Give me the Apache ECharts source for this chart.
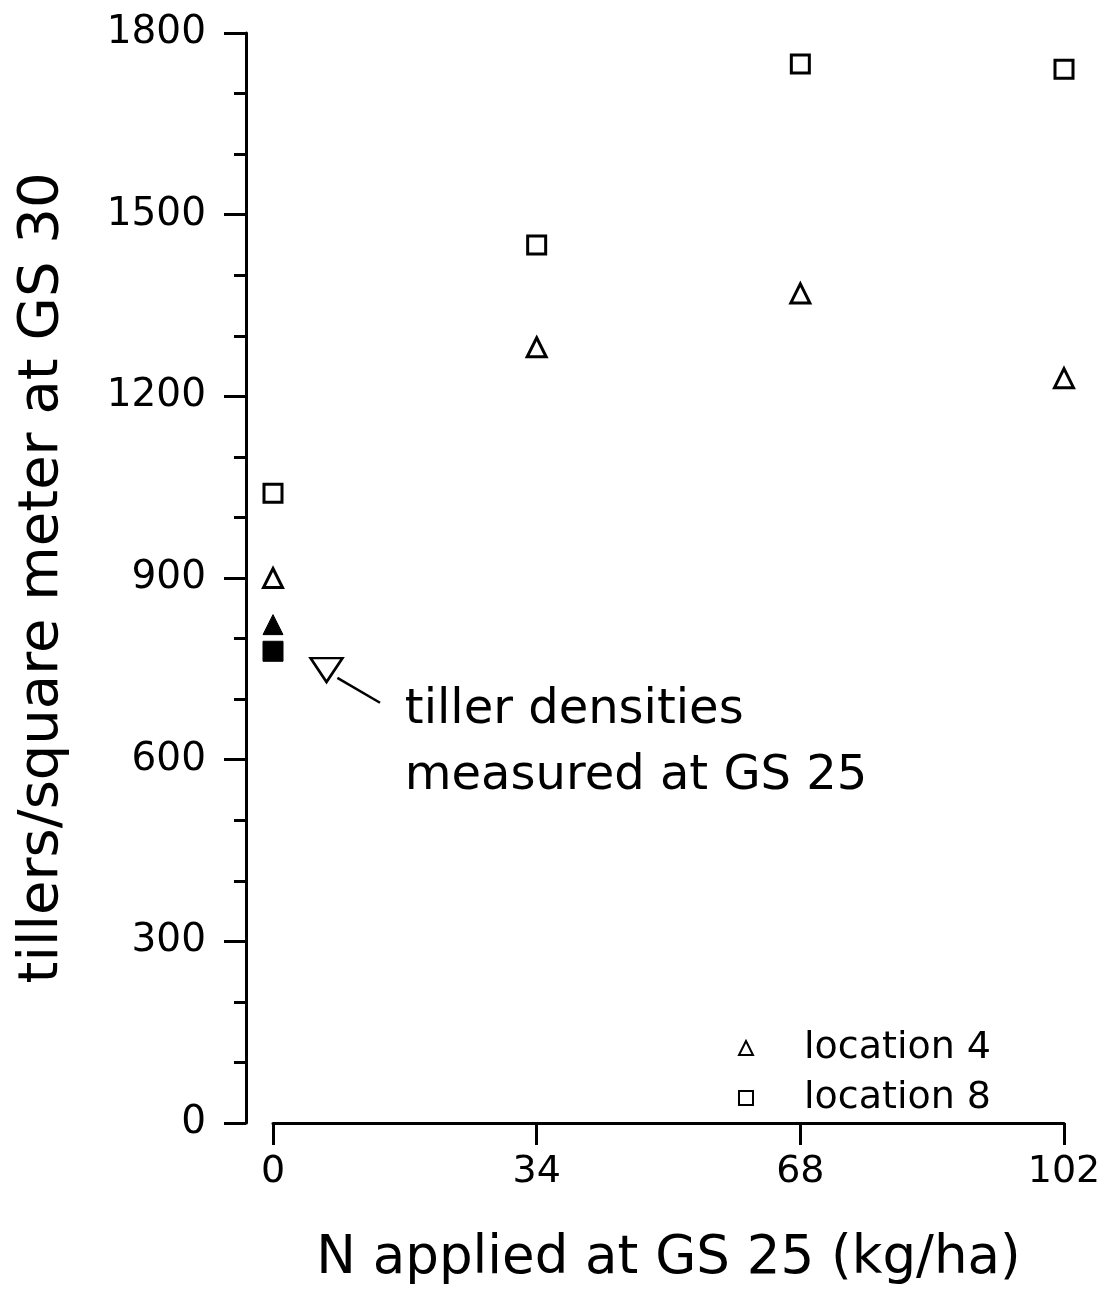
<!DOCTYPE html>
<html>
<head>
<meta charset="utf-8">
<script src="https://cdn.jsdelivr.net/npm/echarts@6/dist/echarts.min.js"></script>
<style>
  html, body { margin: 0; padding: 0; background: #fff; }
  #main { width: 1110px; height: 1289px; }
</style>
</head>
<body>
<div id="main"></div>
<script>
// tiller densities vs N rate
const nRates = [0, 34, 68, 102];
const loc4 = [900, 1281, 1370, 1230];
const loc8 = [1040, 1450, 1749, 1740];
// measured at GS 25 (before N applied)
const gs25Loc4 = [[0, 823]];
const gs25Loc8 = [[0, 779]];
// annotation pieces
const noteMarker = [[6.9, 748]];
const noteLine = [[8.3, 735], [13.8, 694]];
const noteText = ['tiller densities', 'measured at GS 25'];
const notePos = [[17, 626]];

const FONT = 'DejaVu Sans';

const chart = echarts.init(document.getElementById('main'));

const pts = arr => nRates.map((x, i) => [x, arr[i]]);
const openStyle = { color: '#fff', borderColor: '#000', borderWidth: 3, opacity: 1 };
const solidStyle = { color: '#000', borderColor: '#000', borderWidth: 1, opacity: 1 };

chart.setOption({
  backgroundColor: '#fff',
  animation: false,
  textStyle: { fontFamily: FONT, color: '#000' },
  grid: { left: 273, right: 46, top: 33, bottom: 166, outerBoundsMode: 'none', containLabel: false },
  legend: {
    orient: 'vertical',
    left: 733, top: 1024,
    itemWidth: 14, itemHeight: 14, itemGap: 12,
    data: ['location 4', 'location 8'],
    textStyle: { fontSize: 38, color: '#000', fontFamily: FONT, padding: [0, 0, 0, 46] }
  },
  xAxis: {
    type: 'value', min: 0, max: 102, interval: 34,
    name: 'N applied at GS 25 (kg/ha)',
    nameLocation: 'middle', nameGap: 110,
    nameTextStyle: { fontSize: 53, color: '#000', fontFamily: FONT },
    axisLine: { onZero: false, lineStyle: { color: '#000', width: 3 } },
    axisTick: { length: 22, lineStyle: { color: '#000', width: 3 } },
    axisLabel: { fontSize: 38, color: '#000', margin: 30, fontFamily: FONT },
    splitLine: { show: false }
  },
  yAxis: {
    type: 'value', min: 0, max: 1800, interval: 300,
    offset: 27,
    name: 'tillers/square meter at GS 30',
    nameLocation: 'middle', nameGap: 176,
    nameTextStyle: { fontSize: 56, color: '#000', fontFamily: FONT },
    axisLine: { show: true, onZero: false, lineStyle: { color: '#000', width: 3 } },
    axisTick: { length: 22, lineStyle: { color: '#000', width: 3 } },
    minorTick: { show: true, splitNumber: 3, length: 12, lineStyle: { color: '#000', width: 3 } },
    axisLabel: { fontSize: 39, color: '#000', margin: 40, fontFamily: FONT, formatter: v => String(v) },
    splitLine: { show: false }
  },
  series: [
    {
      name: 'location 4', type: 'scatter', data: pts(loc4),
      symbol: 'triangle', symbolSize: 19, itemStyle: openStyle
    },
    {
      name: 'location 8', type: 'scatter', data: pts(loc8),
      symbol: 'rect', symbolSize: 18, itemStyle: openStyle
    },
    {
      name: 'gs25 loc4', type: 'scatter', data: gs25Loc4,
      symbol: 'triangle', symbolSize: 20, itemStyle: solidStyle
    },
    {
      name: 'gs25 loc8', type: 'scatter', data: gs25Loc8,
      symbol: 'rect', symbolSize: 20, itemStyle: solidStyle
    },
    {
      name: 'note marker', type: 'scatter', data: noteMarker,
      symbol: 'triangle', symbolRotate: 180, symbolSize: [32, 24],
      itemStyle: { color: '#fff', borderColor: '#000', borderWidth: 2.5, opacity: 1 }
    },
    {
      name: 'note line', type: 'line', data: noteLine,
      symbol: 'none', lineStyle: { color: '#000', width: 2.5, opacity: 1 }
    },
    {
      name: 'note text', type: 'scatter', data: notePos,
      symbolSize: 0, itemStyle: { opacity: 1 },
      label: {
        show: true, position: 'right', distance: 0,
        formatter: () => noteText.join('\n'),
        fontSize: 48, lineHeight: 66, color: '#000', fontFamily: FONT, align: 'left'
      }
    }
  ]
});
</script>
</body>
</html>
